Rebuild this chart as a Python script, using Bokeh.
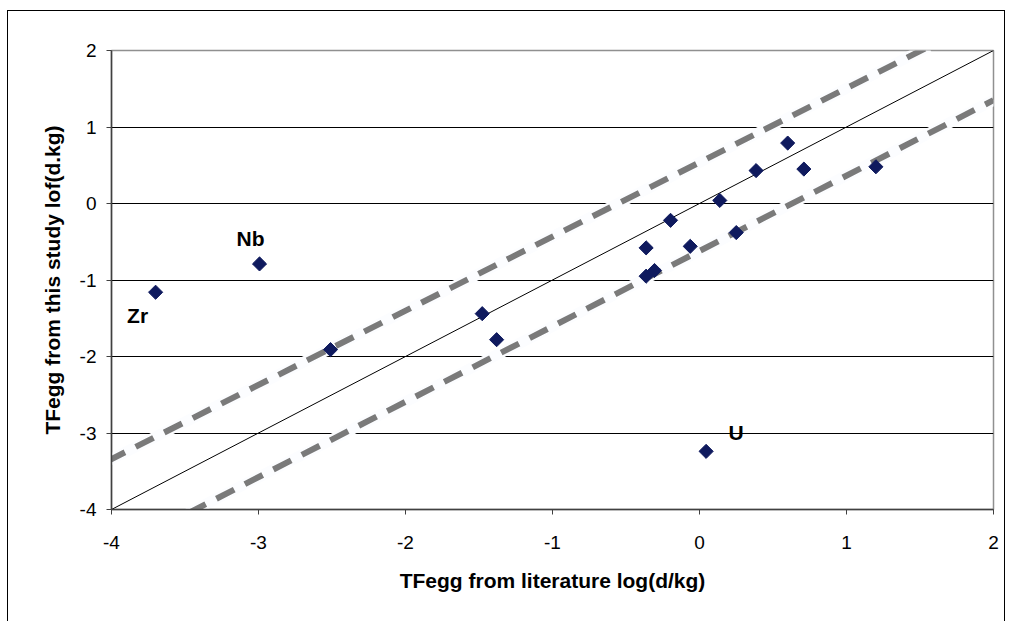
import math
from bokeh.plotting import figure
from bokeh.models import Range1d, FixedTicker, ColumnDataSource
from bokeh.embed import file_html
from bokeh.resources import INLINE
from bokeh.core.properties import value

# ---- data ----
lit_x = [0.60, 0.385, 0.71, 1.20, 0.138, -0.197, -0.363, -0.063, 0.25, -0.363, -0.306,
         -1.478, -1.38, -2.51, -2.993, -3.70, 0.045]
study_y = [0.79, 0.43, 0.45, 0.48, 0.04, -0.22, -0.58, -0.56, -0.38, -0.95, -0.876,
           -1.44, -1.78, -1.91, -0.79, -1.16, -3.24]

label_names = ["Nb", "Zr", "U"]
label_x = [-2.993, -3.70, 0.045]
label_y = [-0.79, -1.16, -3.24]

one_x = [-4, 2]
one_y = [-4, 2]
upper_x = [-4.03, 1.56]
upper_y = [-3.37, 2.05]
lower_x = [-3.48, 2.0]
lower_y = [-4.05, 1.35]

ticks = [-4, -3, -2, -1, 0, 1, 2]
tick_text = ["-4", "-3", "-2", "-1", "0", "1", "2"]

FONT = "Liberation Sans"

p = figure(width=996, height=620, output_backend="svg", toolbar_location=None,
           x_range=Range1d(-4, 2), y_range=Range1d(-4, 2),
           frame_width=882, frame_height=459,
           min_border_left=103, min_border_right=11, min_border_top=39, min_border_bottom=122)
p.styles = {"border": "1px solid #000000", "margin": "10px 0 0 7px"}
p.background_fill_color = "white"
p.border_fill_color = "white"
p.outline_line_color = "#909090"
p.outline_line_width = 1.5

overrides = {t: s for t, s in zip(ticks, tick_text)}
for ax, lab in ((p.xaxis[0], "TFegg from literature log(d/kg)"),
                (p.yaxis[0], "TFegg from this study lof(d.kg)")):
    ax.ticker = FixedTicker(ticks=ticks)
    ax.major_label_overrides = overrides
    ax.minor_tick_line_color = None
    ax.major_tick_in = 0
    ax.major_tick_out = 5
    ax.major_tick_line_color = "#404040"
    ax.axis_line_color = "#404040"
    ax.axis_line_width = 1.5
    ax.major_label_text_font = FONT
    ax.major_label_text_font_size = "19px"
    ax.major_label_text_color = "#000000"
    ax.axis_label = lab
    ax.axis_label_text_font = FONT
    ax.axis_label_text_font_size = "21px"
    ax.axis_label_text_font_style = "bold"
    ax.axis_label_text_color = "#000000"

p.xaxis.major_label_standoff = 21
p.xaxis.axis_label_standoff = 17
p.yaxis.major_label_standoff = 10
p.yaxis.axis_label_standoff = 13

p.xgrid.grid_line_color = None
p.ygrid.ticker = FixedTicker(ticks=ticks)
p.ygrid.grid_line_color = "#000000"
p.ygrid.grid_line_width = 1

# bands (white underlay + grey dashes)
for xs, ys in ((upper_x, upper_y), (lower_x, lower_y)):
    p.line(xs, ys, line_color="#fcfdff", line_width=11)
    p.line(xs, ys, line_color="#7a7a7a", line_width=6, line_dash="20 12")

# 1:1 line
p.line(one_x, one_y, line_color="#000000", line_width=1)

# points (rotated squares = Excel diamonds)
p.scatter(lit_x, study_y, marker="square", angle=math.pi / 4, size=10,
          fill_color="#0f1a5e", line_color="#0f1a5e")

# labels
src = ColumnDataSource(dict(x=label_x, y=label_y, t=label_names,
                            dx=[-9, -18, 30], dy=[-25, 23, -19]))
p.text(x="x", y="y", text="t", source=src, x_offset="dx", y_offset="dy",
       text_align="center", text_baseline="middle",
       text_font=value(FONT), text_font_size="21px", text_font_style="bold",
       text_color="#000000")

open("out.html", "w").write(file_html(p, INLINE))
